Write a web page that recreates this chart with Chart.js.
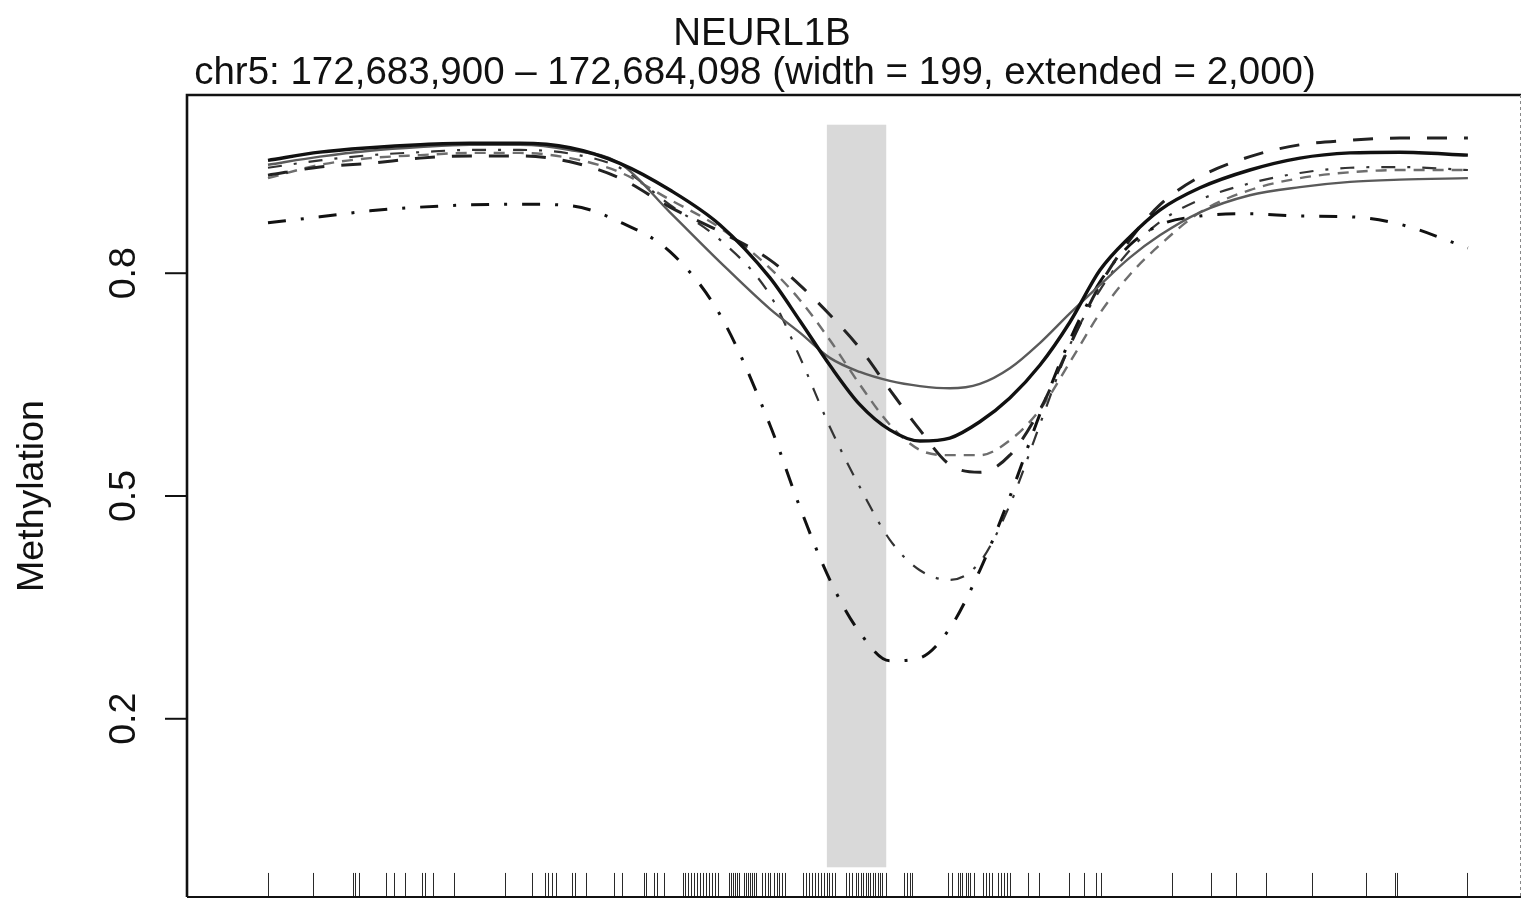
<!DOCTYPE html>
<html><head><meta charset="utf-8">
<script src="https://cdn.jsdelivr.net/npm/chart.js@4.4.0/dist/chart.umd.min.js"></script>
<style>html,body{margin:0;padding:0;background:#fff;overflow:hidden}#wrap{width:1522px;height:899px;position:relative}</style>
</head><body><div id="wrap"><canvas id="c" width="1522" height="899"></canvas></div>
<script>
// ---- text ----
const geneName = 'NEURL1B';
const regionLabel = 'chr5: 172,683,900 \u2013 172,684,098 (width = 199, extended = 2,000)';
const yAxisTitle = 'Methylation';
const yTickValues = [0.2, 0.5, 0.8];
const yTickLabels = ['0.2', '0.5', '0.8'];

// ---- region ----
const dmrStart = 172683900;
const dmrEnd = 172684098;
const xMin = 172681767;
const xMax = 172686214;

// ---- smoothed methylation curves (genomic position -> value) ----
const positions = [172682037,172682210,172682377,172682544,172682710,172682877,172683044,172683210,172683377,172683544,172683710,172683810,172683910,172684010,172684110,172684210,172684310,172684410,172684510,172684610,172684710,172684810,172684910,172685010,172685144,172685310,172685477,172685644,172685810,172686037];
const sampleSolidThick = [0.952,0.963,0.969,0.973,0.975,0.975,0.969,0.948,0.912,0.865,0.794,0.736,0.676,0.623,0.589,0.574,0.578,0.600,0.632,0.676,0.734,0.804,0.849,0.885,0.915,0.939,0.955,0.962,0.963,0.959];
const sampleSolidThin  = [0.946,0.957,0.965,0.970,0.973,0.973,0.966,0.948,0.882,0.815,0.752,0.720,0.686,0.667,0.655,0.648,0.645,0.651,0.672,0.706,0.746,0.784,0.821,0.851,0.882,0.905,0.916,0.923,0.926,0.928];
const sampleLongDash   = [0.932,0.943,0.948,0.955,0.958,0.958,0.950,0.928,0.889,0.856,0.818,0.784,0.744,0.699,0.643,0.589,0.542,0.532,0.555,0.616,0.703,0.784,0.845,0.892,0.930,0.957,0.973,0.979,0.982,0.982];
const sampleDashed     = [0.928,0.946,0.955,0.959,0.962,0.962,0.955,0.936,0.899,0.861,0.807,0.764,0.710,0.650,0.596,0.562,0.555,0.555,0.575,0.616,0.680,0.746,0.798,0.838,0.882,0.912,0.928,0.936,0.939,0.939];
const sampleDotDashA   = [0.868,0.876,0.884,0.889,0.892,0.893,0.891,0.869,0.829,0.744,0.596,0.485,0.387,0.316,0.278,0.282,0.322,0.400,0.499,0.610,0.710,0.788,0.838,0.865,0.877,0.880,0.877,0.876,0.866,0.834];
const sampleDotDashB   = [0.942,0.952,0.959,0.963,0.966,0.966,0.961,0.942,0.892,0.845,0.771,0.687,0.593,0.512,0.441,0.400,0.387,0.411,0.488,0.596,0.703,0.777,0.831,0.869,0.899,0.921,0.935,0.942,0.943,0.939];

// ---- CpG positions (rug) ----
const cpgPositions = [172682037,172682187,172682320,172682327,172682340,172682430,172682457,172682494,172682550,172682560,172682587,172682657,172682827,172682917,172682960,172682970,172682984,172682997,172683050,172683060,172683097,172683190,172683217,172683290,172683297,172683324,172683334,172683357,172683420,172683427,172683437,172683447,172683457,172683467,172683477,172683487,172683497,172683507,172683517,172683527,172683537,172683574,172683580,172683587,172683594,172683600,172683607,172683624,172683630,172683637,172683644,172683650,172683657,172683664,172683684,172683694,172683704,172683710,172683724,172683734,172683740,172683750,172683760,172683820,172683830,172683840,172683850,172683860,172683870,172683880,172683890,172683900,172683907,172683917,172683927,172683964,172683974,172683984,172683997,172684004,172684014,172684020,172684030,172684037,172684044,172684054,172684060,172684070,172684077,172684084,172684097,172684157,172684167,172684177,172684184,172684304,172684317,172684337,172684344,172684350,172684364,172684370,172684377,172684390,172684420,172684430,172684440,172684450,172684470,172684480,172684490,172684500,172684510,172684570,172684607,172684707,172684757,172684797,172684814,172685050,172685180,172685264,172685364,172685517,172685697,172685794,172685800,172686034];

const FONT = '"Liberation Sans", Arial, Helvetica, sans-serif';

const series = [
  {label:'solid thick', data:sampleSolidThick, color:'#111111', width:3.4, dash:[]},
  {label:'solid thin',  data:sampleSolidThin,  color:'#5a5a5a', width:2.4, dash:[]},
  {label:'long dash',   data:sampleLongDash,   color:'#222222', width:3.0, dash:[20,17]},
  {label:'dashed',      data:sampleDashed,     color:'#6e6e6e', width:2.4, dash:[11,8]},
  {label:'dot-dash A',  data:sampleDotDashA,   color:'#111111', width:3.0, dash:[18,15,3,15]},
  {label:'dot-dash B',  data:sampleDotDashB,   color:'#333333', width:2.2, dash:[14,12,3,12]}
];

const decor = {
  id: 'decor',
  beforeDatasetsDraw(chart) {
    const {ctx, scales:{x, y}} = chart;
    const x0 = x.getPixelForValue(dmrStart), x1 = x.getPixelForValue(dmrEnd);
    const yt = y.getPixelForValue(1), yb = y.getPixelForValue(0);
    ctx.save();
    ctx.fillStyle = '#d9d9d9';
    ctx.fillRect(x0, yt, x1 - x0, yb - yt);
    ctx.restore();
  },
  afterDraw(chart) {
    const {ctx, chartArea:a, scales:{x, y}} = chart;
    ctx.save();
    // rug
    const tick = 0.03 * (a.bottom - a.top);
    ctx.strokeStyle = '#2a2a2a';
    ctx.lineWidth = 1;
    cpgPositions.forEach(p => {
      const px = Math.round(x.getPixelForValue(p)) + 0.5;
      ctx.beginPath(); ctx.moveTo(px, a.bottom); ctx.lineTo(px, a.bottom - tick); ctx.stroke();
    });
    // frame
    ctx.strokeStyle = '#111';
    ctx.lineWidth = 2.6;
    ctx.beginPath();
    ctx.moveTo(a.left, a.bottom); ctx.lineTo(a.left, a.top); ctx.lineTo(a.right, a.top);
    ctx.stroke();
    ctx.lineWidth = 2;
    ctx.beginPath(); ctx.moveTo(a.left, a.bottom); ctx.lineTo(a.right, a.bottom); ctx.stroke();
    ctx.strokeStyle = '#888'; ctx.lineWidth = 1; ctx.setLineDash([3,3]);
    ctx.beginPath(); ctx.moveTo(a.right - 0.5, a.top); ctx.lineTo(a.right - 0.5, a.bottom); ctx.stroke();
    ctx.setLineDash([]);
    // y ticks
    ctx.strokeStyle = '#111'; ctx.lineWidth = 2;
    ctx.fillStyle = '#111';
    ctx.font = '37.5px ' + FONT;
    ctx.textAlign = 'center'; ctx.textBaseline = 'alphabetic';
    yTickValues.forEach((v, i) => {
      const py = y.getPixelForValue(v);
      ctx.beginPath(); ctx.moveTo(a.left - 22, py); ctx.lineTo(a.left, py); ctx.stroke();
      ctx.save(); ctx.translate(135, py); ctx.rotate(-Math.PI / 2);
      ctx.fillText(yTickLabels[i], 0, 0); ctx.restore();
    });
    // y title
    ctx.save(); ctx.translate(43, (a.top + a.bottom) / 2); ctx.rotate(-Math.PI / 2);
    ctx.fillText(yAxisTitle, 0, 0); ctx.restore();
    // titles
    ctx.font = '38.5px ' + FONT;
    ctx.fillText(geneName, 762, 45);
    ctx.fillText(regionLabel, 755, 84);
    ctx.restore();
  }
};

new Chart(document.getElementById('c'), {
  type: 'line',
  data: {
    datasets: series.map(s => ({
      label: s.label,
      data: positions.map((p, i) => ({x: p, y: s.data[i]})),
      borderColor: s.color,
      borderWidth: s.width,
      borderDash: s.dash,
      pointRadius: 0,
      cubicInterpolationMode: 'monotone',
      fill: false
    }))
  },
  options: {
    responsive: false,
    animation: false,
    devicePixelRatio: 1,
    layout: {padding: {left: 187, top: 95, right: 1, bottom: 2}},
    plugins: {legend: {display: false}, title: {display: false}, tooltip: {enabled: false}},
    scales: {
      x: {type: 'linear', min: xMin, max: xMax, display: false},
      y: {type: 'linear', min: -0.04, max: 1.04, display: false}
    }
  },
  plugins: [decor]
});
</script></body></html>
